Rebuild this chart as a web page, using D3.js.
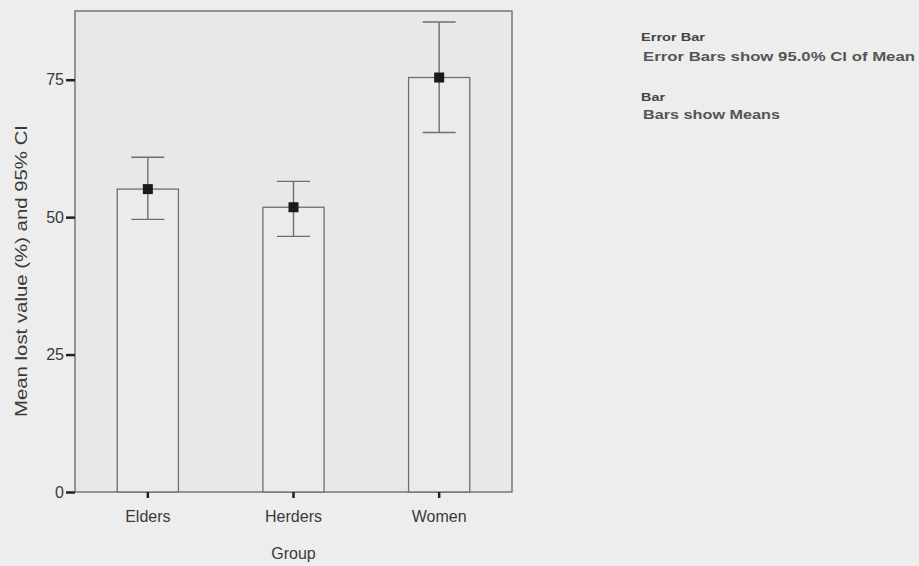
<!DOCTYPE html>
<html>
<head>
<meta charset="utf-8">
<script src="https://cdn.jsdelivr.net/npm/d3@7"></script>
<style>
  html, body { margin: 0; padding: 0; background: #ededed; }
  svg { display: block; font-family: "Liberation Sans", Arial, sans-serif; }
</style>
</head>
<body>
<div id="chart-container"></div>
<script>
// data
const groups = ["Elders", "Herders", "Women"];
const means = [55.1, 51.8, 75.4];
const ciLow = [49.6, 46.5, 65.4];
const ciHigh = [60.9, 56.5, 85.5];
const yTicks = [0, 25, 50, 75];
const legendLines = [
  { text: "Error Bar", header: true },
  { text: "Error Bars show 95.0% CI of Mean", header: false },
  { text: "Bar", header: true },
  { text: "Bars show Means", header: false },
];

const [svg, w, h, padding] = renderSvg();
renderChart();
renderLegend();

function renderSvg() {
  const padding = { top: 11, right: 407, bottom: 74, left: 75 };
  const w = 919 - padding.left - padding.right;
  const h = 566 - padding.top - padding.bottom;
  const svg = d3
    .select("#chart-container")
    .append("svg")
    .attr("width", 919)
    .attr("height", 566);
  return [svg, w, h, padding];
}

function renderChart() {
  const lineColor = "#6e6e6e";
  const g = svg
    .append("g")
    .attr("transform", `translate(${padding.left}, ${padding.top})`);

  // plot frame
  g.append("rect")
    .attr("width", w)
    .attr("height", h)
    .attr("fill", "#e8e8e8")
    .attr("stroke", lineColor)
    .attr("stroke-width", 1.4);

  const x = d3.scaleBand().domain(groups).range([0, w]).paddingInner(0.58).paddingOuter(0.29);
  const y = d3.scaleLinear().domain([0, 87.5]).range([h, 0]);

  // bars
  g.selectAll(".bar")
    .data(groups)
    .enter()
    .append("rect")
    .attr("class", "bar")
    .attr("x", (d) => x(d))
    .attr("y", (d, i) => y(means[i]))
    .attr("width", x.bandwidth())
    .attr("height", (d, i) => h - y(means[i]))
    .attr("fill", "#ebebeb")
    .attr("stroke", lineColor)
    .attr("stroke-width", 1.3);

  // error bars
  const capW = 33;
  const err = g.selectAll(".err").data(groups).enter().append("g").attr("class", "err");
  const cx = (d) => x(d) + x.bandwidth() / 2;
  err.append("line")
    .attr("x1", cx).attr("x2", cx)
    .attr("y1", (d, i) => y(ciLow[i]))
    .attr("y2", (d, i) => y(ciHigh[i]))
    .attr("stroke", lineColor).attr("stroke-width", 1.4);
  [ciLow, ciHigh].forEach((arr) => {
    err.append("line")
      .attr("x1", (d) => cx(d) - capW / 2)
      .attr("x2", (d) => cx(d) + capW / 2)
      .attr("y1", (d, i) => y(arr[i]))
      .attr("y2", (d, i) => y(arr[i]))
      .attr("stroke", lineColor).attr("stroke-width", 1.4);
  });
  err.append("rect")
    .attr("x", (d) => cx(d) - 5)
    .attr("y", (d, i) => y(means[i]) - 5)
    .attr("width", 10)
    .attr("height", 10)
    .attr("fill", "#1a1a1a");

  // y axis
  const yAxis = d3.axisLeft(y).tickValues(yTicks).tickSize(9).tickPadding(2);
  const ya = g.append("g").call(yAxis);
  ya.select(".domain").remove();
  ya.selectAll(".tick line").attr("stroke", "#222").attr("stroke-width", 2.5);
  ya.selectAll(".tick text").attr("fill", "#3a3a3a").style("font-size", "16px");

  // x axis
  const xAxis = d3.axisBottom(x).tickSize(6).tickPadding(13);
  const xa = g.append("g").attr("transform", `translate(0, ${h})`).call(xAxis);
  xa.select(".domain").remove();
  xa.selectAll(".tick line").attr("stroke", "#222").attr("stroke-width", 2.5);
  xa.selectAll(".tick text").attr("fill", "#3a3a3a").style("font-size", "16px");

  // axis titles
  svg.append("text")
    .attr("x", padding.left + w / 2)
    .attr("y", 559)
    .attr("text-anchor", "middle")
    .attr("fill", "#3a3a3a")
    .style("font-size", "16px")
    .text("Group");

  svg.append("text")
    .attr("transform", `translate(27, 271) rotate(-90)`)
    .attr("x", -146)
    .attr("fill", "#3a3a3a")
    .style("font-size", "17px")
    .attr("textLength", 292)
    .attr("lengthAdjust", "spacingAndGlyphs")
    .text("Mean lost value (%) and 95% CI");
}

function renderLegend() {
  const ys = [41, 61, 101, 119];
  const xs = [641, 643, 641, 643];
  const lens = [64, 272, 24, 137];
  svg.append("g")
    .selectAll("text")
    .data(legendLines)
    .enter()
    .append("text")
    .attr("x", (d, i) => xs[i])
    .attr("y", (d, i) => ys[i])
    .attr("fill", (d) => (d.header ? "#444" : "#555"))
    .style("font-size", (d) => (d.header ? "11.5px" : "12.5px"))
    .style("font-weight", "bold")
    .attr("textLength", (d, i) => lens[i])
    .attr("lengthAdjust", "spacingAndGlyphs")
    .text((d) => d.text);
}
</script>
</body>
</html>
